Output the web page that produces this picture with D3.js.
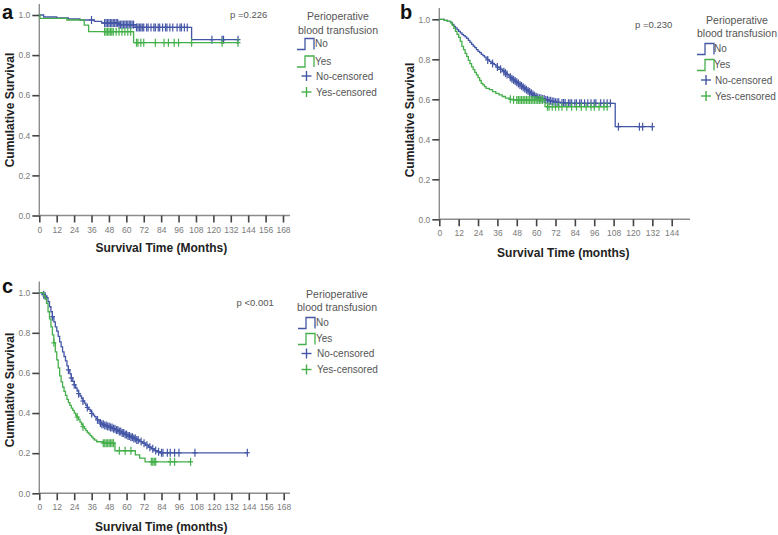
<!DOCTYPE html>
<html><head><meta charset="utf-8">
<script src="https://cdn.jsdelivr.net/npm/d3@7"></script>
<style>
html,body{margin:0;padding:0;background:#fff;}
svg{display:block;font-family:"Liberation Sans",Arial,sans-serif;}
</style></head>
<body><svg id="c" width="778" height="535"></svg>
<script>
// ---------- DATA ----------
const xTicksA = [0,12,24,36,48,60,72,84,96,108,120,132,144,156,168];
const xTicksB = [0,12,24,36,48,60,72,84,96,108,120,132,144];
const yTicks = [0,0.2,0.4,0.6,0.8,1.0];
const legendTitle = ["Perioperative","blood transfusion"];
const legendLabels = ["No","Yes","No-censored","Yes-censored"];
const pValues = ["p =0.226","p =0.230","p <0.001"];

// Panel a: [month, cumulative survival] steps
const aNo = [[0,1],[3,0.99],[12,0.985],[20,0.98],[28,0.975],[38,0.968],[43,0.96],[55,0.952],[66,0.938],[105,0.877]];
const aNoEnd = 137;
const aNoCens = [36,45,46,47,48,49,50,51,52,53,54,55,56,57,58,59,60,61,62,63,64,65,67,68,69,70,71,72,74,75,77,79,80,82,83,85,87,88,90,92,95,97,98,100,102,119,126,127,137];
const aYes = [[0,1],[0.5,0.983],[19,0.975],[31,0.95],[34,0.917],[65,0.862]];
const aYesEnd = 137;
const aYesCens = [45,46,47,48,49,50,51,53,55,57,59,61,63,67,68,70,72,80,86,89,93,96,105,126,137];

// Panel b
const bNo = [[0,1],[3,0.995],[5,0.99],[7,0.985],[8,0.975],[9,0.965],[10,0.957],[11,0.948],[12,0.94],[13,0.932],[14,0.925],[15,0.918],[16,0.912],[17,0.905],[18,0.895],[19,0.885],[20,0.875],[21,0.866],[22,0.858],[23,0.848],[24,0.84],[25,0.833],[26,0.825],[27,0.818],[28,0.811],[29,0.804],[30,0.797],[31,0.79],[32,0.785],[33,0.779],[34,0.773],[35,0.767],[36,0.761],[37,0.756],[38,0.75],[39,0.744],[40,0.738],[41,0.731],[42,0.724],[43,0.717],[44,0.71],[45,0.703],[46,0.697],[47,0.691],[48,0.685],[49,0.679],[50,0.672],[51,0.666],[52,0.66],[53,0.654],[54,0.648],[55,0.642],[56,0.636],[57,0.63],[58,0.624],[59,0.618],[60,0.613],[61,0.609],[62,0.605],[64,0.601],[66,0.597],[68,0.593],[70,0.589],[72,0.585],[75,0.582],[80,0.58],[109,0.463]];
const bNoEnd = 132;
const bNoCens = [30,33,36,38,40,41,42,44,45,46,47,48,49,50,51,52,53,54,55,56,57,58,59,60,61,62,63,64,65,66,67,68,69,70,71,72,73,74,76,77,78,80,81,82,84,85,87,88,90,92,94,96,97,100,102,104,106,111,124,126,132];
const bYes = [[0,1],[3,0.995],[5,0.99],[7,0.982],[8,0.97],[9,0.955],[10,0.94],[11,0.925],[12,0.91],[13,0.89],[14,0.865],[15,0.848],[16,0.83],[17,0.813],[18,0.795],[19,0.778],[20,0.762],[21,0.748],[22,0.735],[23,0.722],[24,0.708],[25,0.694],[26,0.68],[27,0.672],[28,0.663],[29,0.655],[31,0.648],[33,0.638],[35,0.63],[37,0.622],[39,0.614],[41,0.606],[44,0.6],[46,0.597],[65.5,0.563]];
const bYesEnd = 104;
const bYesCens = [44,46,48,49,50,51,52,53,54,55,56,57,58,59,60,61,62,63,64,67,68,70,72,74,76,79,82,85,88,91,94,96,99,102,104];

// Panel c
const cNo = [[0,1],[2,0.995],[3,0.99],[4,0.983],[5,0.975],[6,0.955],[7,0.93],[8,0.905],[9,0.88],[10,0.855],[11,0.83],[12,0.808],[13,0.782],[14,0.755],[15,0.73],[16,0.705],[17,0.682],[18,0.66],[19,0.635],[20,0.615],[21,0.595],[22,0.575],[23,0.558],[24,0.541],[25,0.525],[26,0.51],[27,0.497],[28,0.485],[29,0.472],[30,0.46],[31,0.45],[32,0.438],[33,0.428],[34,0.418],[35,0.408],[36,0.398],[37,0.39],[38,0.382],[39,0.374],[40,0.366],[41,0.358],[42,0.35],[43,0.344],[45,0.338],[47,0.333],[49,0.328],[51,0.322],[53,0.315],[55,0.308],[57,0.3],[59,0.293],[61,0.286],[63,0.28],[65,0.273],[67,0.266],[69,0.258],[71,0.25],[73,0.24],[75,0.23],[77,0.222],[79,0.213],[81,0.207],[83,0.202]];
const cNoEnd = 143;
const cNoCens = [3,4,9,20,22,24,27,30,33,36,40,42,43,44,45,46,47,48,49,50,51,52,53,54,55,56,57,58,59,60,61,62,63,64,65,66,67,68,70,72,74,76,78,80,82,84,85,88,90,93,96,107,143];
const cYes = [[0,1],[3,0.985],[4,0.97],[5,0.947],[6,0.905],[7,0.87],[8,0.83],[9,0.79],[10,0.75],[11,0.705],[12,0.665],[13,0.625],[14,0.585],[15,0.555],[16,0.53],[17,0.508],[18,0.488],[19,0.468],[20,0.452],[21,0.438],[22,0.425],[23,0.413],[24,0.4],[25,0.39],[26,0.38],[27,0.368],[28,0.355],[29,0.343],[30,0.332],[31,0.322],[32,0.312],[33,0.303],[34,0.296],[35,0.288],[36,0.28],[37,0.272],[38,0.265],[39.5,0.257],[44,0.25],[52,0.212],[66,0.192],[69,0.175],[72.7,0.157]];
const cYesEnd = 104;
const cYesCens = [10,26,30,44,45,46,47,48,49,50,51,55,59,63,77,78,79,80,90,93,104];

// ---------- DRAW ----------
const BLUE = "#4456a6", GREEN = "#45b04b";
const FONT = '"Liberation Sans",Arial,sans-serif';
const svg = d3.select("#c");

function survAt(steps, t){
  let s = steps[0][1];
  for (const p of steps){ if (p[0] <= t) s = p[1]; else break; }
  return s;
}

function panel(cfg){
  const g = svg.append("g");
  const x = d3.scaleLinear().domain([0, cfg.xMax]).range([cfg.x0, cfg.x1]);
  const y = d3.scaleLinear().domain([0, 1]).range([cfg.y0, cfg.y1]);

  g.append("line").attr("x1", cfg.x0).attr("x2", cfg.x0).attr("y1", cfg.y0).attr("y2", cfg.yTop)
    .attr("stroke", "#8c8c8c").attr("stroke-width", 1.4);
  g.append("line").attr("x1", cfg.x0).attr("x2", cfg.xEnd).attr("y1", cfg.y0).attr("y2", cfg.y0)
    .attr("stroke", "#8c8c8c").attr("stroke-width", 1.4);

  const xa = g.append("g").attr("transform", `translate(0,${cfg.y0})`)
    .call(d3.axisBottom(x).tickValues(cfg.xTicks).tickFormat(d3.format("d")).tickSize(7).tickSizeOuter(0).tickPadding(4));
  const ya = g.append("g").attr("transform", `translate(${cfg.x0},0)`)
    .call(d3.axisLeft(y).tickValues(yTicks).tickFormat(d3.format(".1f")).tickSize(7).tickSizeOuter(0).tickPadding(2));
  [xa, ya].forEach(a => {
    a.select(".domain").remove();
    a.selectAll(".tick line").attr("stroke", "#444").attr("stroke-width", 1.6);
    a.selectAll(".tick text").attr("fill", "#7a7a7a").style("font-size", "8.5px").style("font-family", FONT);
  });

  g.append("text").attr("x", (cfg.x0 + cfg.xTitleC)).attr("y", cfg.xTitleY).attr("text-anchor", "middle")
    .style("font-size", "12px").style("font-weight", "bold").attr("fill", "#222").text(cfg.xTitle);
  g.append("text").attr("transform", `translate(${cfg.yTitleX},${cfg.yTitleY}) rotate(-90)`)
    .attr("text-anchor", "middle").style("font-size", "12px").style("font-weight", "bold").attr("fill", "#222")
    .text("Cumulative Survival");
  g.append("text").attr("x", cfg.labX).attr("y", cfg.labY).style("font-size", "20px").style("font-weight", "bold")
    .attr("fill", "#111").text(cfg.label);
  g.append("text").attr("x", cfg.pX).attr("y", cfg.pY).attr("dy", "0.35em").style("font-size", "9.5px")
    .attr("fill", "#555").text(cfg.p);

  const line = d3.line().x(d => x(d[0])).y(d => y(d[1])).curve(d3.curveStepAfter);
  cfg.series.forEach(s => {
    const pts = s.steps.concat([[s.end, s.steps[s.steps.length - 1][1]]]);
    g.append("path").attr("d", line(pts)).attr("fill", "none").attr("stroke", s.color).attr("stroke-width", 1.3);
    const cg = g.append("g").attr("stroke", s.color).attr("stroke-width", 1.2);
    s.cens.forEach(t => {
      const cx = x(t), cy = y(survAt(s.steps, t));
      cg.append("line").attr("x1", cx).attr("x2", cx).attr("y1", cy - 4).attr("y2", cy + 4);
      cg.append("line").attr("x1", cx - 2.5).attr("x2", cx + 2.5).attr("y1", cy).attr("y2", cy);
    });
  });

  const L = cfg.leg;
  const lg = g.append("g").attr("fill", "#555");
  legendTitle.forEach((t, i) => lg.append("text").attr("x", L.cx).attr("y", L.ys[i]).attr("dy", "0.35em")
    .style("font-size", "10.5px").attr("text-anchor", "middle").text(t));
  const colors = [BLUE, GREEN, BLUE, GREEN];
  legendLabels.forEach((t, i) => {
    const yy = L.ys[i + 2];
    if (i < 2) {
      const ix = L.ix;
      lg.append("path").attr("d", `M${ix},${yy + 6}H${ix + 8}V${yy - 5}H${ix + 17}V${yy + 6}`)
        .attr("fill", "none").attr("stroke", colors[i]).attr("stroke-width", 1.3);
    } else {
      const px = L.px;
      lg.append("line").attr("x1", px - 5).attr("x2", px + 5).attr("y1", yy).attr("y2", yy).attr("stroke", colors[i]).attr("stroke-width", 1.4);
      lg.append("line").attr("x1", px).attr("x2", px).attr("y1", yy - 5).attr("y2", yy + 5).attr("stroke", colors[i]).attr("stroke-width", 1.4);
    }
    lg.append("text").attr("x", i < 2 ? L.tx : L.tx + 1).attr("y", yy).attr("dy", "0.35em")
      .style("font-size", "10px").text(t);
  });
}

panel({label: "a", labX: 2, labY: 19, p: pValues[0], pX: 230, pY: 15,
  xMax: 168, x0: 39.3, x1: 283, xEnd: 290, y0: 215.5, y1: 15, yTop: 4, xTicks: xTicksA,
  xTitle: "Survival Time (Months)", xTitleC: 122, xTitleY: 252, yTitleX: 14, yTitleY: 110,
  series: [{steps: aNo, end: aNoEnd, cens: aNoCens, color: BLUE}, {steps: aYes, end: aYesEnd, cens: aYesCens, color: GREEN}],
  leg: {cx: 338, ys: [16, 30, 43.5, 61, 76, 92], ix: 297, px: 306.5, tx: 315}});

panel({label: "b", labX: 400, labY: 18.5, p: pValues[1], pX: 635, pY: 25,
  xMax: 144, x0: 439.3, x1: 671.7, xEnd: 690, y0: 219.3, y1: 19.3, yTop: 8, xTicks: xTicksB,
  xTitle: "Survival Time (months)", xTitleC: 124, xTitleY: 257, yTitleX: 414, yTitleY: 120,
  series: [{steps: bNo, end: bNoEnd, cens: bNoCens, color: BLUE}, {steps: bYes, end: bYesEnd, cens: bYesCens, color: GREEN}],
  leg: {cx: 737, ys: [20, 33.5, 48.5, 64.5, 80, 96], ix: 697, px: 706, tx: 714}});

panel({label: "c", labX: 2, labY: 293, p: pValues[2], pX: 236.5, pY: 303,
  xMax: 168, x0: 39.3, x1: 283.7, xEnd: 290, y0: 493.3, y1: 292.7, yTop: 281.5, xTicks: xTicksA,
  xTitle: "Survival Time (months)", xTitleC: 122, xTitleY: 531, yTitleX: 14, yTitleY: 390,
  series: [{steps: cNo, end: cNoEnd, cens: cNoCens, color: BLUE}, {steps: cYes, end: cYesEnd, cens: cYesCens, color: GREEN}],
  leg: {cx: 337, ys: [294, 307.5, 322.5, 338.5, 353.5, 369.5], ix: 298, px: 306.5, tx: 316}});
</script></body></html>
